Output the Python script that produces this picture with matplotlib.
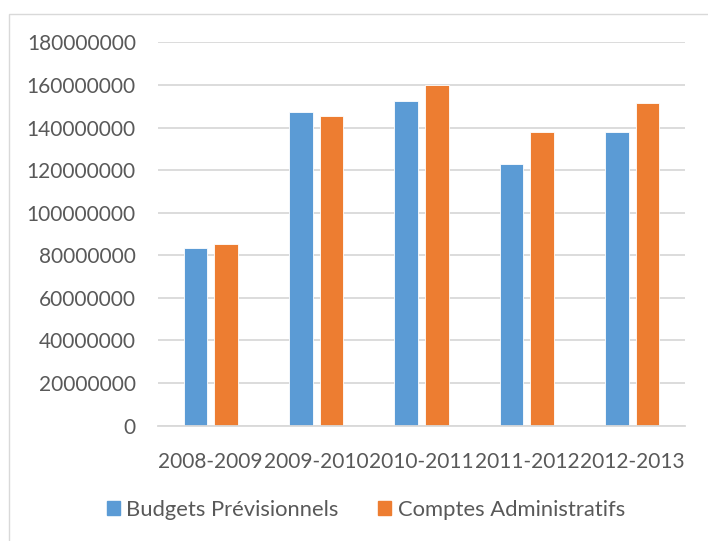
import matplotlib
matplotlib.use("Agg")
import matplotlib.pyplot as plt
from matplotlib.patches import Rectangle, Patch
import numpy as np

categories = ["2008-2009", "2009-2010", "2010-2011", "2011-2012", "2012-2013"]
budgets_previsionnels = [83200000, 147200000, 152400000, 122700000, 137700000]
comptes_administratifs = [85100000, 145300000, 159900000, 138000000, 151300000]
series_names = ["Budgets Prévisionnels", "Comptes Administratifs"]
yticks = list(range(0, 180000001, 20000000))

blue = "#5B9BD5"
orange = "#ED7D31"
text_grey = "#595959"
grid_grey = "#D9D9D9"

plt.rcParams["font.family"] = ["Lato", "DejaVu Sans"]

W, H = 708, 541
fig = plt.figure(figsize=(W / 100, H / 100), dpi=100)
fig.patch.set_facecolor("white")

# outer chart frame
fig.patches.append(Rectangle((9 / W, -0.1), 1.2, 1.1 - 14 / H,
                             transform=fig.transFigure, fill=False,
                             edgecolor=grid_grey, linewidth=1.0))

ax = fig.add_axes([158 / W, 1 - 425.5 / H, (685 - 158) / W, (425.5 - 42.4) / H])
x = np.arange(len(categories))
bw = 0.223
off = 0.145
ax.bar(x - off, budgets_previsionnels, bw, color=blue, edgecolor="white", linewidth=0.6, zorder=3)
ax.bar(x + off, comptes_administratifs, bw, color=orange, edgecolor="white", linewidth=0.6, zorder=3)

ax.set_xlim(-0.5, len(categories) - 0.5)
ax.set_ylim(0, 180000000)
ax.set_yticks(yticks)
ax.set_yticklabels([str(v) for v in yticks])
ax.set_xticks(x)
ax.set_xticklabels(categories)
ax.tick_params(axis="both", length=0, labelsize=15, labelcolor=text_grey)
ax.tick_params(axis="y", pad=16)
ax.tick_params(axis="x", pad=19)
ax.yaxis.grid(True, color=grid_grey, linewidth=1.3, zorder=0)
ax.set_axisbelow(True)
for s in ["top", "right", "left"]:
    ax.spines[s].set_visible(False)
ax.spines["bottom"].set_color(grid_grey)
ax.spines["bottom"].set_linewidth(1.3)
ax.spines["bottom"].set_zorder(4)

handles = [Patch(facecolor=blue, edgecolor=blue), Patch(facecolor=orange, edgecolor=orange)]
fig.legend(handles, series_names, loc="center", bbox_to_anchor=(366 / W, 1 - 510 / H),
           ncol=2, frameon=False, fontsize=15.8, labelcolor=text_grey,
           handlelength=0.6, handleheight=0.6, handletextpad=0.3, columnspacing=1.8)

fig.savefig("out.png", dpi=100, facecolor="white")
